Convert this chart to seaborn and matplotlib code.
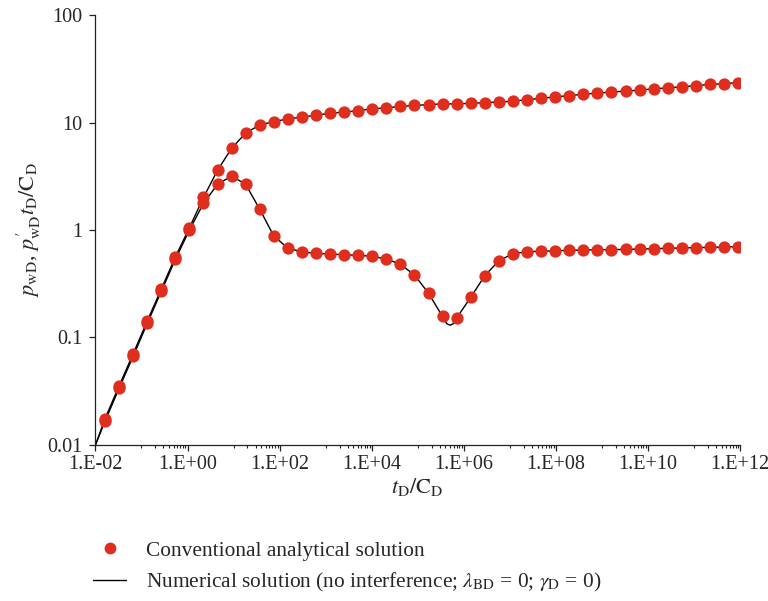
import numpy as np
import pandas as pd
import matplotlib
matplotlib.use("Agg")
import matplotlib.pyplot as plt
from matplotlib.lines import Line2D
import seaborn as sns

# ---- data ----
t_pts = [0.0161, 0.0325, 0.0657, 0.133, 0.269, 0.543, 1.10, 2.22, 4.48, 9.06,
         18.3, 37.0, 74.8, 151, 306, 618, 1250, 2520, 5090, 10300,
         20800, 42100, 85100, 172000, 348000, 703000, 1.42e6, 2.87e6, 5.80e6, 1.17e7,
         2.37e7, 4.79e7, 9.68e7, 1.95e8, 3.95e8, 8.00e8, 1.61e9, 3.27e9, 6.59e9, 1.33e10,
         2.70e10, 5.45e10, 1.10e11, 2.22e11, 4.50e11, 9.09e11]
p_pts = [0.0175, 0.0354, 0.0703, 0.142, 0.282, 0.561, 1.05, 2.01, 3.59, 5.75,
         7.98, 9.48, 10.2, 10.8, 11.2, 11.7, 12.2, 12.5, 12.9, 13.4,
         13.7, 14.1, 14.4, 14.7, 14.9, 14.9, 15.1, 15.3, 15.5, 15.8,
         16.3, 16.8, 17.3, 17.8, 18.3, 18.8, 19.2, 19.6, 20.0, 20.6,
         21.0, 21.5, 22.0, 22.6, 23.0, 23.5]
d_pts = [0.0166, 0.0336, 0.0666, 0.135, 0.268, 0.532, 1.0, 1.77, 2.66, 3.18,
         2.66, 1.56, 0.879, 0.678, 0.626, 0.607, 0.598, 0.589, 0.582, 0.569,
         0.537, 0.480, 0.381, 0.258, 0.158, 0.152, 0.237, 0.376, 0.518, 0.602,
         0.628, 0.634, 0.640, 0.647, 0.651, 0.656, 0.656, 0.661, 0.665, 0.670,
         0.676, 0.681, 0.686, 0.690, 0.695, 0.700]

# numerical solution (line)
t_line_p = [0.01] + t_pts + [1e12]
p_line = [0.0100] + p_pts + [23.6]
t_line_d = ([0.01] + t_pts[:24] + [430000, 510000, 600000] + t_pts[25:] + [1e12])
d_line = ([0.0100] + d_pts[:24] + [0.134, 0.130, 0.135] + d_pts[25:] + [0.701])

xtick_vals = [1e-2, 1e0, 1e2, 1e4, 1e6, 1e8, 1e10, 1e12]
xtick_labels = ["1.E-02", "1.E+00", "1.E+02", "1.E+04", "1.E+06", "1.E+08", "1.E+10", "1.E+12"]
ytick_vals = [0.01, 0.1, 1, 10, 100]
ytick_labels = ["0.01", "0.1", "1", "10", "100"]

# ---- style ----
sns.set_style("ticks")
plt.rcParams["font.family"] = ["Liberation Serif", "DejaVu Serif"]
plt.rcParams["mathtext.fontset"] = "stix"

red = "#DF2E1E"

fig = plt.figure(figsize=(7.68, 6.01), dpi=100)
ax = fig.add_axes([0.1243, 0.2596, 0.8392, 0.7154])

df_line = pd.concat([
    pd.DataFrame({"t": t_line_p, "v": p_line, "s": "p"}),
    pd.DataFrame({"t": t_line_d, "v": d_line, "s": "d"}),
])
df_pts = pd.concat([
    pd.DataFrame({"t": t_pts, "v": p_pts, "s": "p"}),
    pd.DataFrame({"t": t_pts, "v": d_pts, "s": "d"}),
])

sns.lineplot(data=df_line, x="t", y="v", units="s", estimator=None, sort=False,
             color="black", linewidth=1.0, ax=ax, legend=False, zorder=2)
sns.scatterplot(data=df_pts, x="t", y="v", color=red, s=78, linewidth=0,
                ax=ax, legend=False, zorder=3)

ax.set_xscale("log")
ax.set_yscale("log")
ax.set_xlim(0.01, 1e12)
ax.set_ylim(0.01, 100)

ax.set_xticks(xtick_vals)
ax.set_xticklabels(xtick_labels)
minor = [k * 10.0 ** d for d in range(-1, 12, 2) for k in range(1, 10)]
ax.set_xticks(minor, minor=True)
ax.set_xticklabels([], minor=True)
ax.set_yticks(ytick_vals)
ax.set_yticklabels(ytick_labels)
ax.set_yticks([], minor=True)

ax.tick_params(axis="both", which="major", direction="out", length=4.5, width=0.9,
               labelsize=14.5, color="#222222", pad=5)
ax.tick_params(axis="x", which="major", pad=3)
ax.tick_params(axis="x", which="minor", direction="out", length=2.5, width=0.8,
               color="#222222")
for sp in ["left", "bottom"]:
    ax.spines[sp].set_linewidth(0.9)
    ax.spines[sp].set_color("#222222")
sns.despine(ax=ax)

ax.set_xlabel(r"$t_{\mathrm{D}}/\mathrm{C}_{\mathrm{D}}$", fontsize=16, labelpad=1)
ax.set_ylabel(r"$p_{\mathrm{wD}}$, $p^{\prime}_{\mathrm{wD}}t_{\mathrm{D}}/\mathrm{C}_{\mathrm{D}}$",
              fontsize=16, labelpad=3)

handles = [
    Line2D([], [], marker="o", color=red, linestyle="none", markersize=8.5,
           markeredgewidth=0),
    Line2D([], [], color="black", linewidth=1.0),
]
labels = [
    "Conventional analytical solution",
    r"Numerical solution (no interference; $\lambda_{\mathrm{BD}}$ = 0; $\gamma_{\mathrm{D}}$ = 0)",
]
fig.legend(handles, labels, loc="upper left", bbox_to_anchor=(0.121, 0.100),
           frameon=False, fontsize=15.4, handlelength=1.55, handletextpad=0.95,
           labelspacing=0.45, borderpad=0, borderaxespad=0)

fig.savefig("out.png", dpi=100)
